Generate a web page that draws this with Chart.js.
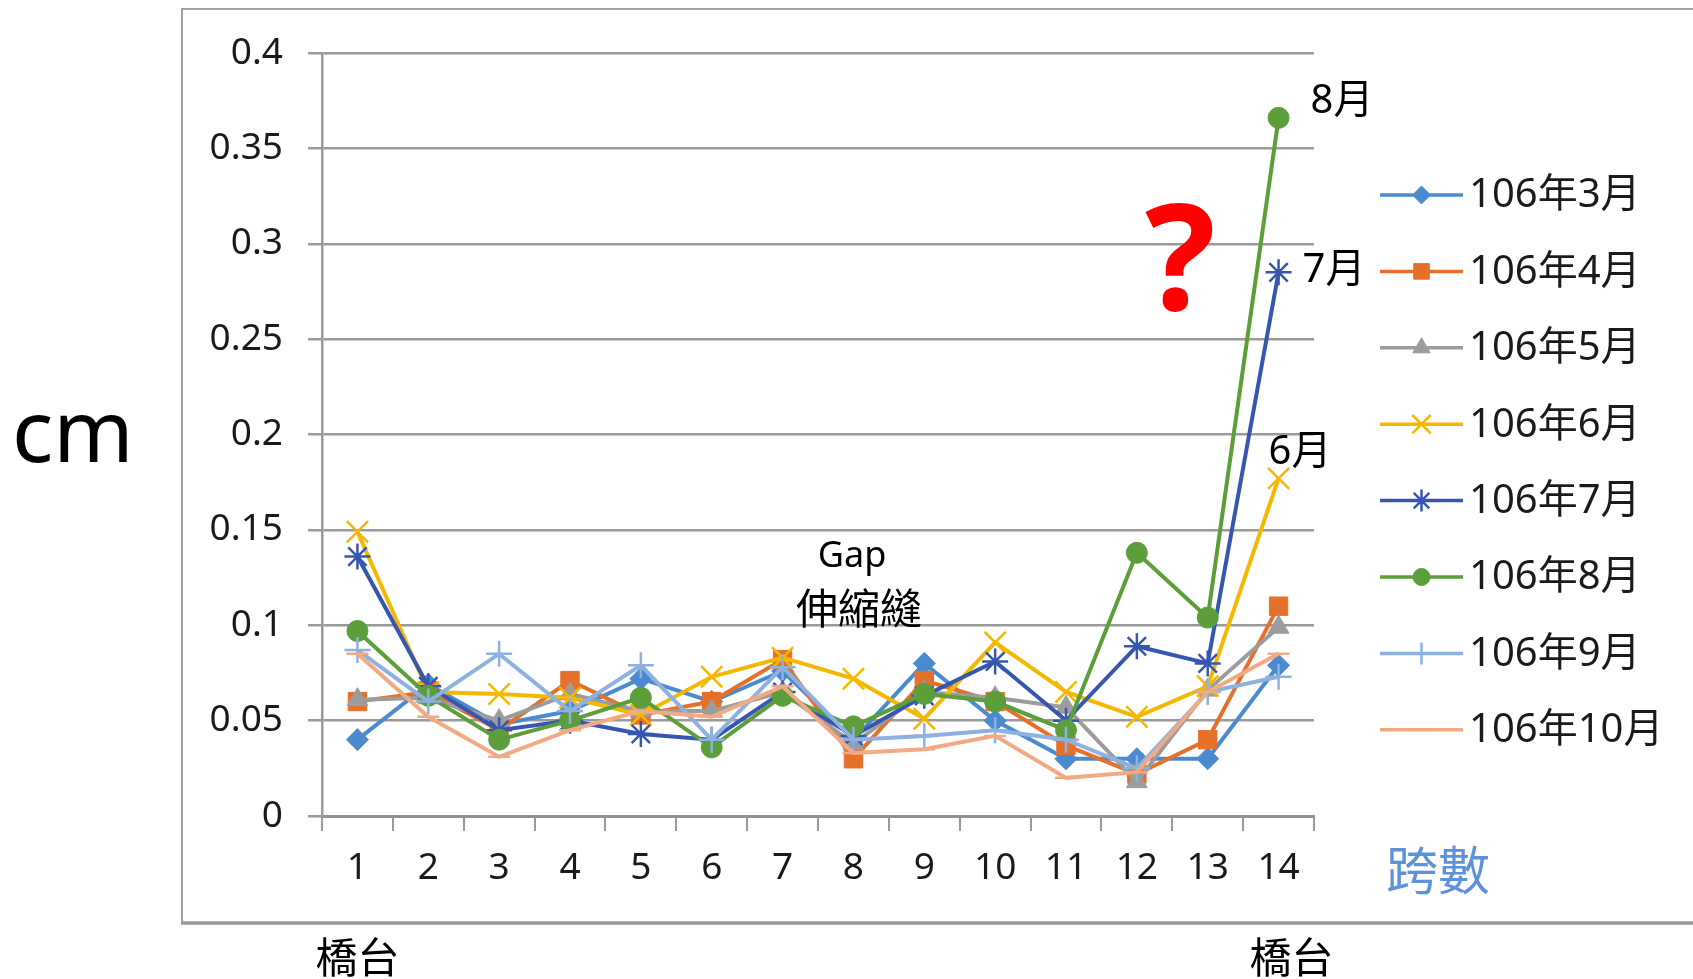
<!DOCTYPE html>
<html>
<head>
<meta charset="utf-8">
<script src="https://cdn.jsdelivr.net/npm/chart.js@4.4.1/dist/chart.umd.min.js"></script>
<style>
  html, body { margin: 0; padding: 0; background: #fff; }
  canvas { display: block; }
</style>
</head>
<body>
<canvas id="c" width="1693" height="979"></canvas>
<script>
// Span numbers along the bridge (x axis)
const spans = ['1', '2', '3', '4', '5', '6', '7', '8', '9', '10', '11', '12', '13', '14'];
// Y axis tick labels (cm)
const yTickLabels = ['0', '0.05', '0.1', '0.15', '0.2', '0.25', '0.3', '0.35', '0.4'];
// Monthly survey series names
const seriesNames = ['106年3月', '106年4月', '106年5月', '106年6月', '106年7月', '106年8月', '106年9月', '106年10月'];

// Measured gap values per span (cm)
const mar = [0.040, 0.069, 0.048, 0.055, 0.072, 0.060, 0.076, 0.040, 0.080, 0.050, 0.030, 0.030, 0.030, 0.079];
const apr = [0.060, 0.065, 0.045, 0.071, 0.053, 0.060, 0.082, 0.030, 0.071, 0.060, 0.037, 0.022, 0.040, 0.110];
const may = [0.061, 0.062, 0.050, 0.064, 0.055, 0.055, 0.065, 0.038, 0.065, 0.062, 0.057, 0.018, 0.066, 0.099];
const jun = [0.149, 0.065, 0.064, 0.062, 0.053, 0.073, 0.083, 0.072, 0.051, 0.091, 0.065, 0.052, 0.068, 0.177];
const jul = [0.136, 0.068, 0.045, 0.050, 0.043, 0.040, 0.065, 0.042, 0.063, 0.081, 0.050, 0.089, 0.080, 0.285];
const aug = [0.097, 0.063, 0.040, 0.050, 0.062, 0.036, 0.063, 0.047, 0.064, 0.060, 0.045, 0.138, 0.104, 0.366];
const sep = [0.087, 0.060, 0.085, 0.055, 0.079, 0.040, 0.078, 0.040, 0.042, 0.045, 0.040, 0.025, 0.065, 0.073];
const oct = [0.085, 0.052, 0.031, 0.045, 0.055, 0.052, 0.068, 0.033, 0.035, 0.042, 0.020, 0.023, 0.065, 0.085];

const seriesValues = [mar, apr, may, jun, jul, aug, sep, oct];
const seriesColors = ['#4A8BCF', '#E4702A', '#9C9C9C', '#F5B800', '#3656B0', '#5C9E3A', '#8DB1E0', '#F2AA85'];
const seriesMarkers = ['rectRot', 'rect', 'triangle', 'crossRot', 'star', 'circle', 'cross', 'line'];
const markerRadii = [11, 13, 12, 15, 13, 10.5, 13, 11];

const LATIN = '"Noto Sans", "Noto Sans CJK TC", sans-serif';
const CJK = '"Noto Sans CJK TC", "Noto Sans", sans-serif';
const GRID = '#9A9A9A';

const strokeOnly = ['crossRot', 'star', 'cross', 'line'];
const datasets = seriesValues.map((vals, i) => ({
  label: seriesNames[i],
  data: vals,
  borderColor: seriesColors[i],
  backgroundColor: seriesColors[i],
  pointBackgroundColor: seriesColors[i],
  pointBorderColor: seriesColors[i],
  pointStyle: seriesMarkers[i],
  pointRadius: markerRadii[i],
  pointBorderWidth: strokeOnly.includes(seriesMarkers[i]) ? 2.5 : 1,
  borderWidth: 4,
  tension: 0,
  order: seriesValues.length - i
}));

// Outer frame of the chart object
const framePlugin = {
  id: 'frame',
  beforeDraw(chart) {
    const ctx = chart.ctx;
    ctx.save();
    ctx.fillStyle = '#ffffff';
    ctx.fillRect(0, 0, chart.width, chart.height);
    ctx.strokeStyle = '#A0A0A0';
    ctx.lineWidth = 2;
    ctx.beginPath();
    ctx.moveTo(chart.width + 5, 9);
    ctx.lineTo(182, 9);
    ctx.lineTo(182, 923);
    ctx.stroke();
    ctx.lineWidth = 3.5;
    ctx.strokeStyle = '#9A9A9A';
    ctx.beginPath();
    ctx.moveTo(181, 923);
    ctx.lineTo(chart.width + 5, 923);
    ctx.stroke();
    ctx.restore();
  }
};

// Line + marker legend on the right
const legendPlugin = {
  id: 'sideLegend',
  afterDraw(chart) {
    const ctx = chart.ctx;
    const x1 = 1380, x2 = 1463, tx = 1469, y0 = 195, dy = 76.4;
    ctx.save();
    chart.data.datasets.forEach((ds, i) => {
      const y = y0 + i * dy;
      ctx.strokeStyle = ds.borderColor;
      ctx.lineWidth = 3.5;
      ctx.beginPath();
      ctx.moveTo(x1, y);
      ctx.lineTo(x2, y);
      ctx.stroke();
      ctx.fillStyle = ds.pointBackgroundColor;
      ctx.strokeStyle = ds.pointBorderColor;
      ctx.lineWidth = ds.pointBorderWidth;
      Chart.helpers.drawPoint(ctx, {
        pointStyle: ds.pointStyle,
        radius: ds.pointRadius - 2,
        rotation: 0,
        borderWidth: ds.pointBorderWidth
      }, (x1 + x2) / 2, y);
      ctx.fillStyle = '#1a1a1a';
      ctx.font = '40px ' + LATIN;
      ctx.textAlign = 'left';
      ctx.textBaseline = 'middle';
      ctx.fillText(ds.label, tx, y + 1);
    });
    ctx.restore();
  }
};

// Text annotations around the plot
const notesPlugin = {
  id: 'notes',
  afterDraw(chart) {
    const ctx = chart.ctx;
    const xs = chart.scales.x, ys = chart.scales.y;
    const last = spans.length - 1;
    const px = xs.getPixelForValue(last);
    ctx.save();
    ctx.fillStyle = '#000';
    ctx.textBaseline = 'middle';
    ctx.textAlign = 'left';

    ctx.font = '40px ' + LATIN;
    ctx.fillText('8月', px + 32, ys.getPixelForValue(aug[last]) - 16);
    ctx.fillText('7月', px + 24, ys.getPixelForValue(jul[last]) - 2);
    ctx.fillText('6月', px - 10, ys.getPixelForValue(jun[last]) - 26);

    ctx.textAlign = 'center';
    ctx.font = '36px ' + LATIN;
    ctx.fillText('Gap', 852, 557);
    ctx.font = '42px ' + CJK;
    ctx.fillText('伸縮縫', 859, 608);

    ctx.font = '86px ' + LATIN;
    ctx.textAlign = 'left';
    ctx.fillText('cm', 12, 437);

    ctx.font = '42px ' + CJK;
    ctx.textAlign = 'center';
    ctx.fillText('橋台', xs.getPixelForValue(0), 957);
    ctx.fillText('橋台', px + 13, 957);

    ctx.fillStyle = '#5B92DA';
    ctx.font = '52px ' + CJK;
    ctx.fillText('跨數', 1438, 870);

    ctx.fillStyle = '#FF0000';
    ctx.font = 'bold 148px ' + LATIN;
    ctx.textBaseline = 'alphabetic';
    ctx.fillText('?', 1180, 310);
    ctx.restore();
  }
};

new Chart(document.getElementById('c'), {
  type: 'line',
  data: { labels: spans, datasets },
  options: {
    responsive: false,
    animation: false,
    devicePixelRatio: 1,
    layout: { padding: { left: 0, top: 53, right: 379, bottom: 0 } },
    plugins: { legend: { display: false }, tooltip: { enabled: false } },
    scales: {
      x: {
        type: 'category',
        offset: true,
        afterFit(scale) { scale.height = 163; },
        grid: {
          display: true, offset: true, drawOnChartArea: false, drawTicks: true,
          tickLength: 15, color: GRID, lineWidth: 2
        },
        border: { display: true, color: '#909090', width: 3 },
        ticks: { color: '#1a1a1a', font: { family: LATIN, size: 37 }, padding: 15, maxRotation: 0, autoSkip: false }
      },
      y: {
        min: 0, max: 0.4,
        afterFit(scale) { scale.width = 322; },
        grid: { color: GRID, lineWidth: 2.5, tickLength: 14, drawTicks: true },
        border: { display: true, color: GRID, width: 2.5 },
        ticks: {
          stepSize: 0.05,
          color: '#1a1a1a',
          padding: 25,
          font: { family: LATIN, size: 37 },
          callback: (v, i) => yTickLabels[i]
        }
      }
    }
  },
  plugins: [framePlugin, legendPlugin, notesPlugin]
});
</script>
</body>
</html>
